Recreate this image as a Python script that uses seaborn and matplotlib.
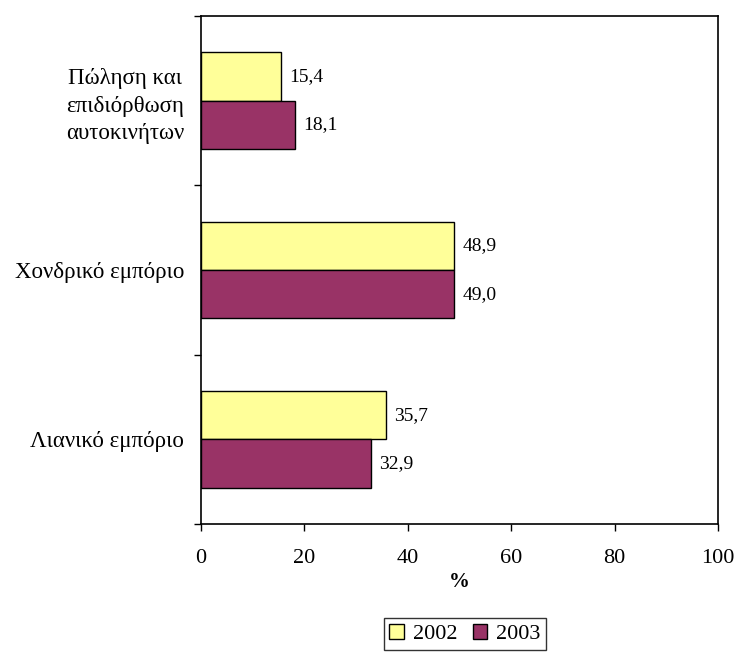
import pandas as pd
import seaborn as sns
import matplotlib.pyplot as plt

categories = ['Πώληση και\nεπιδιόρθωση\nαυτοκινήτων', 'Χονδρικό εμπόριο', 'Λιανικό εμπόριο']
years = ['2002', '2003']
values_2002 = [15.4, 48.9, 35.7]
values_2003 = [18.1, 49.0, 32.9]
xticks = [0, 20, 40, 60, 80, 100]
colors = ['#FFFF99', '#993366']

rows = []
for cat, v2, v3 in zip(categories, values_2002, values_2003):
    rows.append({'cat': cat, 'year': '2002', 'val': v2})
    rows.append({'cat': cat, 'year': '2003', 'val': v3})
df = pd.DataFrame(rows)

sns.set_style('white')
plt.rcParams['font.family'] = ['Liberation Serif', 'DejaVu Serif']
plt.rcParams['text.color'] = 'black'
plt.rcParams['xtick.color'] = 'black'
plt.rcParams['ytick.color'] = 'black'
plt.rcParams['axes.labelcolor'] = 'black'

fig = plt.figure(figsize=(7.39, 6.53), dpi=100)
ax = fig.add_axes([201 / 739, 1 - 524 / 653, 517 / 739, 508 / 653])

sns.barplot(data=df, y='cat', x='val', hue='year', order=categories, hue_order=years,
            palette=colors, saturation=1, orient='h', width=0.57, gap=0,
            edgecolor='black', linewidth=1, ax=ax, legend=False)

for cont in ax.containers:
    labels = [f'{v:.1f}'.replace('.', ',') for v in cont.datavalues]
    ax.bar_label(cont, labels=labels, padding=6, fontsize=14)

ax.set_xlim(0, 100)
ax.set_ylim(2.5, -0.5)
ax.set_xticks(xticks)
ax.set_xticklabels([str(t) for t in xticks], fontsize=16)
ax.set_xlabel('%', fontsize=15, fontweight='bold', labelpad=3)
ax.set_ylabel('')
ax.tick_params(axis='x', direction='out', length=5, width=1, pad=13, bottom=True)
ax.tick_params(axis='y', which='major', length=0, pad=12, labelsize=16.5)
ax.set_yticks([-0.5, 0.5, 1.5, 2.5], minor=True)
ax.tick_params(axis='y', which='minor', direction='out', length=5, width=1, left=True)
for lbl in ax.get_yticklabels():
    lbl.set_multialignment('center')
    lbl.set_linespacing(1.4)
for s in ax.spines.values():
    s.set_visible(True)
    s.set_color('black')
    s.set_linewidth(1.2)

handles = [plt.Rectangle((0, 0), 1, 1, facecolor=c, edgecolor='black', linewidth=1)
           for c in colors]
leg = fig.legend(handles, years, loc='center', bbox_to_anchor=(465 / 739, 1 - 634 / 653), ncol=2,
                 fontsize=16, frameon=True, fancybox=False, handlelength=0.65, handleheight=0.65,
                 handletextpad=0.4, columnspacing=0.7, borderpad=0.25, borderaxespad=0)
leg.get_frame().set_edgecolor('black')
leg.get_frame().set_linewidth(1)

fig.savefig('out.png', dpi=100)
